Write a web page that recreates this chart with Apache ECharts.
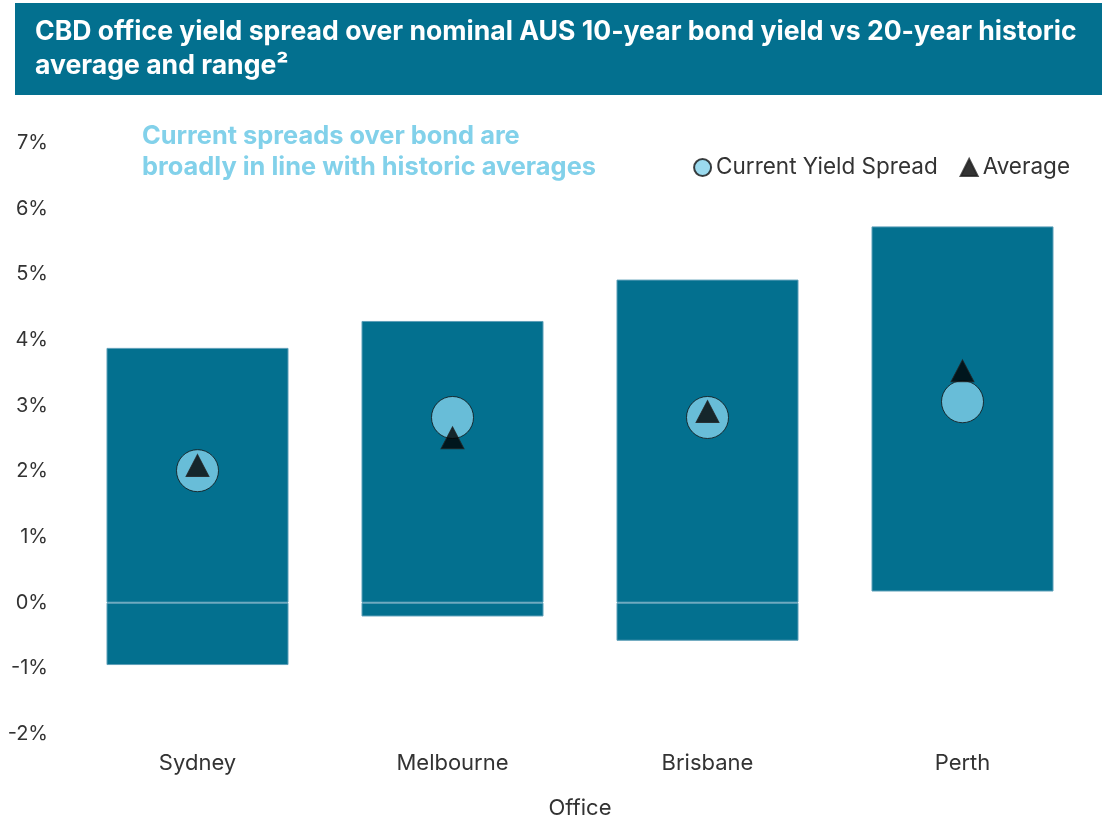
<!DOCTYPE html>
<html>
<head>
<meta charset="utf-8">
<script src="https://cdn.jsdelivr.net/npm/echarts@6/dist/echarts.min.js"></script>
<style>
  html, body { margin: 0; padding: 0; background: #fff; }
  #main { width: 1115px; height: 840px; }
</style>
</head>
<body>
<div id="main"></div>
<script>
// data
const cities = ["Sydney", "Melbourne", "Brisbane", "Perth"];
const rangeMin = [-0.95, -0.21, -0.58, 0.17];
const rangeMax = [3.88, 4.29, 4.92, 5.73];
const currentSpread = [2.01, 2.82, 2.82, 3.06];
const average = [2.09, 2.51, 2.91, 3.53];
const yTicks = [-2, -1, 0, 1, 2, 3, 4, 5, 6, 7];

const teal = "#03708f";
const light = "#82d1ea";
const font = "Inter";

// stacked pieces of the range bar
const baseHidden = rangeMin.map(v => (v > 0 ? v : 0));
const lowPart = rangeMin.map(v => (v < 0 ? v : 0));
const highPart = rangeMax.map((v, i) => v - baseHidden[i]);

let myChart = echarts.init(document.getElementById("main"));
let option = {
  animation: false,
  textStyle: { fontFamily: font },
  graphic: [
    {
      type: "rect",
      shape: { x: 15, y: 3, width: 1087, height: 92 },
      style: { fill: teal }
    },
    {
      type: "text",
      left: 35,
      top: 15,
      style: {
        text: "CBD office yield spread over nominal AUS 10-year bond yield vs 20-year historic\naverage and range²",
        fill: "#fff",
        font: "bold 26.6px " + font,
        lineHeight: 34
      }
    },
    {
      type: "text",
      left: 142,
      top: 121,
      style: {
        text: "Current spreads over bond are\nbroadly in line with historic averages",
        fill: light,
        font: "bold 25.4px " + font,
        lineHeight: 31
      }
    }
  ],
  legend: {
    right: 40,
    top: 151,
    itemGap: 22,
    itemWidth: 17,
    itemHeight: 17,
    textStyle: { fontSize: 22.5, color: "#333", fontFamily: font },
    data: [
      { name: "Current Yield Spread", icon: "circle" },
      { name: "Average", icon: "triangle" }
    ]
  },
  grid: { left: 70, right: 25, top: 143, bottom: 106 },
  xAxis: {
    type: "category",
    data: cities,
    name: "Office",
    nameLocation: "middle",
    nameGap: 63,
    nameTextStyle: { fontSize: 22, color: "#333" },
    axisLine: { show: false },
    axisTick: { show: false },
    axisLabel: { fontSize: 22, color: "#333", margin: 18 }
  },
  yAxis: {
    type: "value",
    min: yTicks[0],
    max: yTicks[yTicks.length - 1],
    interval: 1,
    splitLine: { show: false },
    axisLine: { show: false },
    axisTick: { show: false },
    axisLabel: { fontSize: 20, color: "#333", margin: 22, formatter: v => v + "%" }
  },
  series: [
    {
      name: "base",
      type: "bar",
      stack: "range",
      barWidth: 182,
      data: baseHidden,
      itemStyle: { color: "transparent" },
      silent: true
    },
    {
      name: "low",
      type: "bar",
      stack: "range",
      barWidth: 182,
      data: lowPart.map(v => (v === 0 ? null : v)),
      itemStyle: { color: teal, borderColor: "#5d9fb8", borderWidth: 1 }
    },
    {
      name: "high",
      type: "bar",
      stack: "range",
      barWidth: 182,
      data: highPart,
      itemStyle: { color: teal, borderColor: "#5d9fb8", borderWidth: 1 }
    },
    {
      name: "Current Yield Spread",
      type: "scatter",
      data: currentSpread,
      symbol: "circle",
      symbolSize: 42,
      z: 5,
      itemStyle: { color: light, borderColor: "#111", borderWidth: 1 }
    },
    {
      name: "Average",
      type: "scatter",
      data: average,
      symbol: "triangle",
      symbolSize: [23, 22],
      z: 6,
      itemStyle: { color: "#000", borderColor: "#222", borderWidth: 1 }
    }
  ]
};
myChart.setOption(option);
</script>
</body>
</html>
